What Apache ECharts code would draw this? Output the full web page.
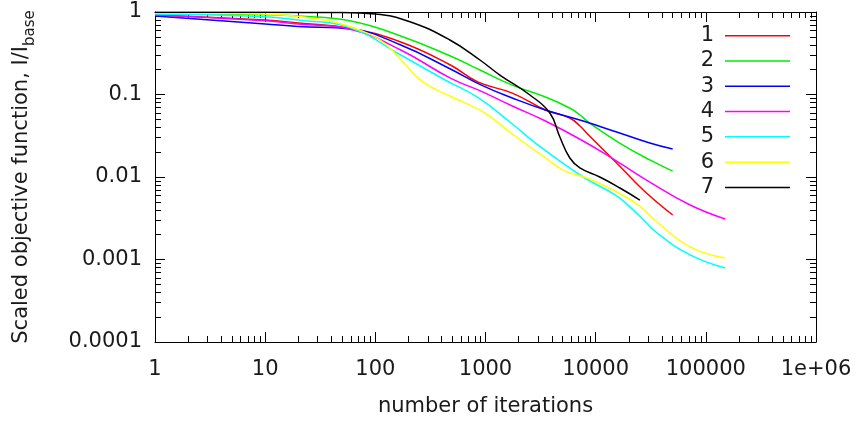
<!DOCTYPE html>
<html><head><meta charset="utf-8">
<script src="https://cdn.jsdelivr.net/npm/echarts@6/dist/echarts.min.js"></script>
<style>html,body{margin:0;padding:0;background:#fff}#c{width:859px;height:423px}</style>
</head><body><div id="c"></div>
<script>
const seriesNames = ['1','2','3','4','5','6','7'];
const xTickLabels = ['1','10','100','1000','10000','100000','1e+06'];
const yTickLabels = ['0.0001','0.001','0.01','0.1','1'];

const run1 = [[1,0.92],[10,0.80],[20,0.736],[60,0.631],[170,0.433],[480,0.228],[850,0.142],[1750,0.104],[3500,0.0649],[5800,0.0519],[7200,0.0415],[8800,0.0314],[15500,0.0148],[27000,0.00695],[50000,0.00346]];
const run2 = [[1,0.964],[10,0.927],[20,0.894],[60,0.778],[170,0.512],[480,0.293],[890,0.198],[1750,0.130],[3500,0.0933],[5800,0.0686],[7200,0.0564],[8800,0.0451],[16500,0.0258],[31000,0.0161],[50000,0.0118]];
const run3 = [[1,0.894],[10,0.715],[20,0.667],[60,0.622],[170,0.398],[480,0.204],[950,0.127],[1750,0.0908],[3500,0.0649],[7700,0.0477],[15500,0.0351],[31000,0.0258],[50000,0.0218]];
const run4 = [[1,0.92],[10,0.784],[20,0.715],[60,0.614],[170,0.346],[480,0.158],[950,0.107],[1750,0.0726],[3500,0.0477],[7700,0.0273],[15500,0.0156],[31000,0.00869],[72000,0.00458],[150000,0.0031]];
const run5 = [[1,0.946],[10,0.877],[20,0.80],[60,0.640],[170,0.301],[430,0.150],[850,0.092],[1750,0.0439],[3000,0.0244],[7700,0.0100],[15500,0.00589],[25000,0.00337],[36000,0.0021],[72000,0.00114],[150000,0.00079]];
const run6 = [[1,0.972],[10,0.946],[20,0.882],[41,0.763],[72,0.605],[117,0.433],[178,0.248],[270,0.142],[475,0.0959],[950,0.0614],[1750,0.0332],[3500,0.0170],[5300,0.0118],[8800,0.00946],[17500,0.00605],[25000,0.00445],[36000,0.00285],[72000,0.00142],[150000,0.00104]];
const run7 = [[1,0.99],[10,0.99],[48,0.986],[100,0.946],[206,0.763],[475,0.458],[890,0.262],[1350,0.172],[2530,0.0986],[3840,0.0597],[4730,0.0305],[5830,0.0170],[7190,0.0129],[10900,0.0100],[16600,0.00736],[25200,0.00526]];
const runs = [run1, run2, run3, run4, run5, run6, run7];

const lineColors = ['#ff0000','#00ee00','#0000ff','#ff00ff','#00ffff','#ffff00','#000000'];
const FONT = 'DejaVu Sans';
const TXT = '#1a1a1a';
const FS = 21;

function minorLog(lo, hi) {
  const v = [];
  for (let d = lo; d < hi; d++) for (let k = 2; k <= 9; k++) v.push(d + Math.log10(k));
  return v;
}

const axLine = {show:true, onZero:false, lineStyle:{color:'#000', width:1}};
const noLine = {show:false, onZero:false};

const chart = echarts.init(document.getElementById('c'));
chart.setOption({
  animation: false,
  backgroundColor: '#fff',
  grid: {left:155, right:43, top:12, bottom:81, containLabel:false, outerBoundsMode:'none'},
  legend: {
    orient:'vertical', right:64, top:18, align:'right', icon:'rect',
    itemWidth:65, itemHeight:1.5, itemGap:0,
    textStyle:{fontFamily:FONT, fontSize:FS, color:TXT, lineHeight:25.3, padding:[0,6,0,0]},
    data: seriesNames
  },
  xAxis: [
    {type:'log', logBase:10, min:1, max:1e6, interval:1, position:'bottom',
     axisLine:axLine, axisTick:{show:true, inside:true, length:10, lineStyle:{color:'#000'}},
     splitLine:{show:false},
     axisLabel:{margin:17, fontFamily:FONT, fontSize:FS, color:TXT,
       formatter: v => xTickLabels[Math.round(Math.log10(v))]},
     name:'number of iterations', nameLocation:'middle', nameGap:54,
     nameTextStyle:{fontFamily:FONT, fontSize:FS, color:TXT}},
    {type:'log', logBase:10, min:1, max:1e6, interval:1, position:'top',
     axisLine:axLine, axisTick:{show:true, inside:true, length:10, lineStyle:{color:'#000'}},
     splitLine:{show:false}, axisLabel:{show:false}},
    {type:'value', min:0, max:6, position:'bottom', axisLine:noLine, splitLine:{show:false}, axisLabel:{show:false},
     axisTick:{show:true, inside:true, length:6, customValues:minorLog(0,6), lineStyle:{color:'#000'}}},
    {type:'value', min:0, max:6, position:'top', axisLine:noLine, splitLine:{show:false}, axisLabel:{show:false},
     axisTick:{show:true, inside:true, length:6, customValues:minorLog(0,6), lineStyle:{color:'#000'}}}
  ],
  yAxis: [
    {type:'log', logBase:10, min:0.0001, max:1, interval:1, position:'left',
     axisLine:axLine, axisTick:{show:true, inside:true, length:10, lineStyle:{color:'#000'}},
     splitLine:{show:false},
     axisLabel:{margin:13, fontFamily:FONT, fontSize:FS, color:TXT,
       formatter: v => yTickLabels[Math.round(Math.log10(v)) + 4]},
     name:'Scaled objective function, I/I{sub|base}', nameLocation:'middle', nameGap:117, nameRotate:90,
     nameTextStyle:{fontFamily:FONT, fontSize:FS, color:TXT, lineHeight:32,
       rich:{sub:{fontFamily:FONT, fontSize:15, color:TXT, lineHeight:19, verticalAlign:'bottom'}}}},
    {type:'log', logBase:10, min:0.0001, max:1, interval:1, position:'right',
     axisLine:axLine, axisTick:{show:true, inside:true, length:10, lineStyle:{color:'#000'}},
     splitLine:{show:false}, axisLabel:{show:false}},
    {type:'value', min:-4, max:0, position:'left', axisLine:noLine, splitLine:{show:false}, axisLabel:{show:false},
     axisTick:{show:true, inside:true, length:6, customValues:minorLog(-4,0), lineStyle:{color:'#000'}}},
    {type:'value', min:-4, max:0, position:'right', axisLine:noLine, splitLine:{show:false}, axisLabel:{show:false},
     axisTick:{show:true, inside:true, length:6, customValues:minorLog(-4,0), lineStyle:{color:'#000'}}}
  ],
  series: runs.map((d, i) => ({
    name: seriesNames[i], type:'line', xAxisIndex:0, yAxisIndex:0,
    data: d, showSymbol:false, symbol:'none', smooth:0.45,
    lineStyle:{color:lineColors[i], width:1.5}, itemStyle:{color:lineColors[i]},
    emphasis:{disabled:true}
  }))
});
</script></body></html>
